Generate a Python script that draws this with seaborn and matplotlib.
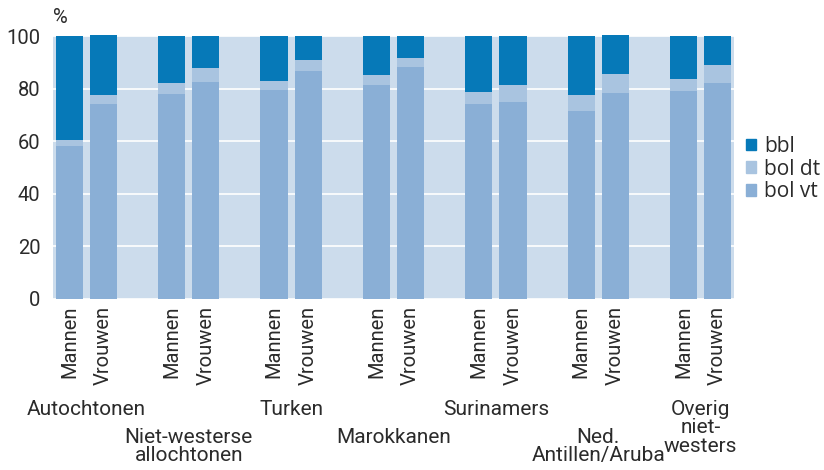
import numpy as np
import pandas as pd
import matplotlib
matplotlib.use("Agg")
import matplotlib.pyplot as plt
import seaborn as sns
from matplotlib.patches import Patch
import matplotlib.transforms as mtransforms

# ---- data ----
groups = ["Autochtonen", "Niet-westerse\nallochtonen", "Turken", "Marokkanen",
          "Surinamers", "Ned.\nAntillen/Aruba", "Overig\nniet-\nwesters"]
genders = ["Mannen", "Vrouwen"]
bol_vt_m = [58.3, 77.9, 79.5, 81.4, 74.1, 71.5, 79.1]
bol_dt_m = [2.2, 4.2, 3.4, 3.8, 4.6, 6.1, 4.6]
bbl_m = [39.5, 17.9, 17.1, 14.8, 21.3, 22.4, 16.3]
bol_vt_v = [74.1, 82.5, 86.7, 88.2, 74.9, 78.3, 82.1]
bol_dt_v = [3.5, 5.3, 4.2, 3.4, 6.5, 7.3, 6.9]
bbl_v = [22.8, 12.2, 9.1, 8.4, 18.6, 14.8, 11.0]
yticks = [0, 20, 40, 60, 80, 100]

c_bbl = "#0679b8"
c_dt = "#a9c4e0"
c_vt = "#8aafd6"
bg = "#ccdcec"
txt = "#2b2b2b"

rows = []
for g, name in enumerate(groups):
    for i, (vt, dt, bb) in enumerate([(bol_vt_m[g], bol_dt_m[g], bbl_m[g]),
                                      (bol_vt_v[g], bol_dt_v[g], bbl_v[g])]):
        rows.append(dict(group=name, gender=genders[i], pos=3 * g + i,
                         vt=vt, dt_top=vt + dt, total=vt + dt + bb))
df = pd.DataFrame(rows)

sns.set_theme(style="darkgrid", rc={"axes.facecolor": bg, "grid.color": "white",
                                     "grid.linewidth": 1.2})
plt.rcParams["font.family"] = ["Roboto", "DejaVu Sans"]
plt.rcParams["text.color"] = txt

fig = plt.figure(figsize=(8.24, 4.70), dpi=100)
ax = fig.add_axes([53 / 824, 1 - 299 / 470, (734 - 53) / 824, (299 - 36) / 470])

for col, color in [("total", c_bbl), ("dt_top", c_dt), ("vt", c_vt)]:
    sns.barplot(data=df, x="pos", y=col, native_scale=True, width=0.8,
                color=color, saturation=1, errorbar=None, ax=ax)
for p in ax.patches:
    p.set_clip_on(False)
    p.set_linewidth(0)

ax.set_xlim(-0.48, 19.48)
ax.set_ylim(0, 100)
ax.set_yticks(yticks)
ax.set_yticklabels([str(t) for t in yticks], fontsize=14.5, color=txt)
ax.xaxis.grid(False)
ax.set_xticks(df["pos"].tolist())
ax.set_xticklabels(df["gender"].tolist(), rotation=90, fontsize=14.5, color=txt)
ax.tick_params(axis="x", length=0, pad=5)
ax.tick_params(axis="y", length=0, pad=9)
ax.set_xlabel("")
ax.set_ylabel("")
for s in ax.spines.values():
    s.set_visible(False)

ax.text(0, (299 - 23) / 263, "%", transform=ax.transAxes, ha="left",
        va="baseline", fontsize=14.5, color=txt)

trans = mtransforms.blended_transform_factory(ax.transData, fig.transFigure)
row_top = [400, 428, 400, 428, 400, 428, 400]
for g, name in enumerate(groups):
    ax.text(3 * g + 0.5, 1 - row_top[g] / 470, name, transform=trans,
            ha="center", va="top", fontsize=15, linespacing=0.95,
            multialignment="center", color=txt)

handles = [Patch(color=c_bbl, label="bbl"), Patch(color=c_dt, label="bol dt"),
           Patch(color=c_vt, label="bol vt")]
fig.legend(handles=handles, loc="center left", bbox_to_anchor=(746 / 824, 1 - 169 / 470),
           frameon=False, prop={"family": "Open Sans", "size": 15},
           handlelength=0.48, handleheight=0.48, handletextpad=0.4, labelspacing=0.08,
           borderaxespad=0, borderpad=0)

fig.savefig("out.png", dpi=100)
